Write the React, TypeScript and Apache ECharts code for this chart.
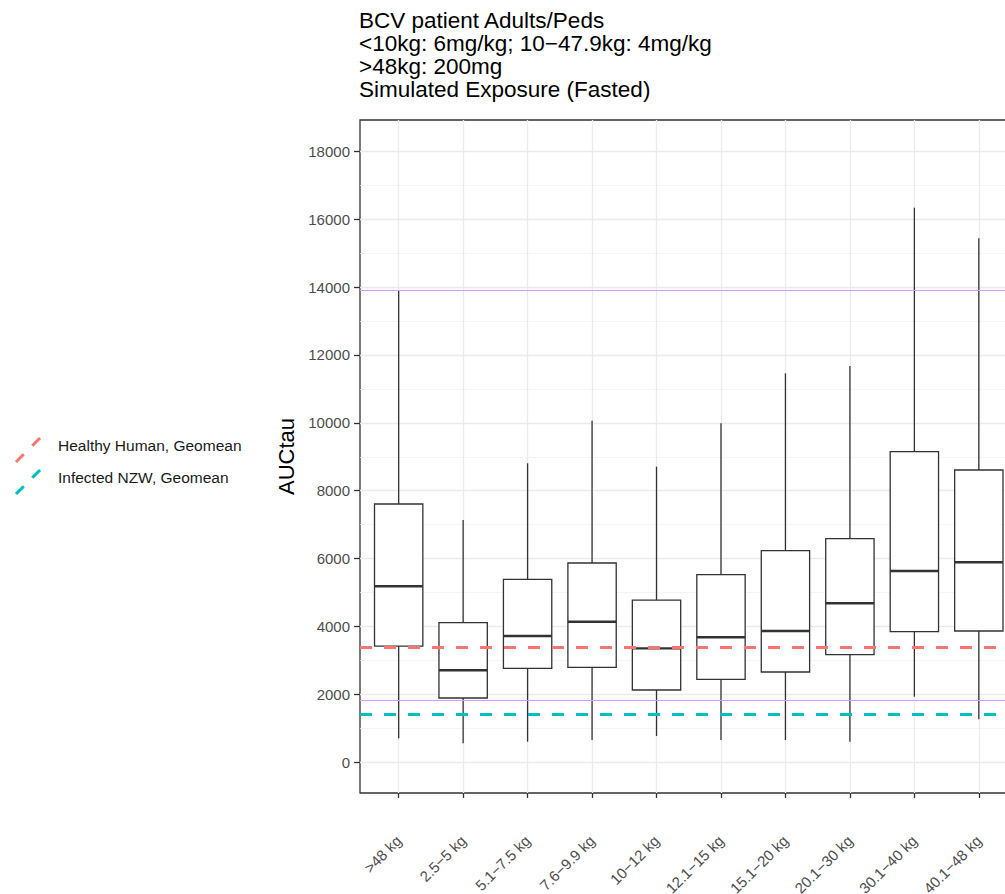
import React, { useEffect, useRef } from "react";
import * as echarts from "echarts";

// ---- data ----
const categories = [
  ">48 kg",
  "2.5−5 kg",
  "5.1−7.5 kg",
  "7.6−9.9 kg",
  "10−12 kg",
  "12.1−15 kg",
  "15.1−20 kg",
  "20.1−30 kg",
  "30.1−40 kg",
  "40.1−48 kg",
];
const whiskerLow = [707, 560, 607, 657, 775, 657, 657, 607, 1933, 1267];
const q1 = [3425, 1894, 2769, 2798, 2130, 2445, 2660, 3170, 3847, 3867];
const median = [5184, 2710, 3720, 4141, 3357, 3682, 3867, 4683, 5635, 5891];
const q3 = [7608, 4112, 5390, 5870, 4780, 5526, 6233, 6587, 9149, 8610];
const whiskerHigh = [13911, 7137, 8807, 10062, 8707, 9985, 11458, 11673, 16336, 15434];

const refNames = ["Healthy Human, Geomean", "Infected NZW, Geomean"];
const refValues = [3400, 1410];
const refColors = ["#F8766D", "#00BFC4"];
const purpleLines = [13900, 1835];

const yMajorTicks = [0, 2000, 4000, 6000, 8000, 10000, 12000, 14000, 16000, 18000];
const yMinorTicks = [1000, 3000, 5000, 7000, 9000, 11000, 13000, 15000, 17000];
const yMin = -904;
const yMax = 18919;

const titleLines = [
  "BCV patient Adults/Peds",
  "<10kg: 6mg/kg; 10−47.9kg: 4mg/kg",
  ">48kg: 200mg",
  "Simulated Exposure (Fasted)",
];
const yName = "AUCtau";

const FONT = "'Liberation Sans', Arial, Helvetica, sans-serif";
const BOX_COLOR = "#333333";

export default function App() {
  const ref = useRef<HTMLDivElement>(null);

  useEffect(() => {
    if (!ref.current) return;
    const chart = echarts.init(ref.current, null, { renderer: "svg" });
    const xPositions = categories.map((_, i) => i + 1);
    const boxData = categories.map((_, i) => [
      i + 1,
      whiskerLow[i],
      q1[i],
      median[i],
      q3[i],
      whiskerHigh[i],
    ]);

    const graphics: any[] = [];
    // title lines as separate texts
    titleLines.forEach((line, i) => {
      graphics.push({
        type: "text",
        silent: true,
        x: 359,
        y: 20 + i * 23,
        style: {
          text: line,
          fontSize: 22.5,
          fontFamily: FONT,
          fill: "#000000",
          verticalAlign: "middle",
          align: "left",
        },
      });
    });
    refNames.forEach((name, i) => {
      const cy = 445 + i * 32;
      graphics.push({
        type: "line",
        silent: true,
        shape: { x1: 16, y1: cy + 17, x2: 44, y2: cy - 11 },
        style: { stroke: refColors[i], lineWidth: 3, lineDash: [11, 12] },
      });
      graphics.push({
        type: "text",
        silent: true,
        x: 58,
        y: cy,
        style: {
          text: name,
          fontSize: 15.5,
          fontFamily: FONT,
          fill: "#1a1a1a",
          verticalAlign: "middle",
          align: "left",
        },
      });
    });

    const option: any = {
      animation: false,
      backgroundColor: "#ffffff",
      grid: {
        left: 360,
        top: 120,
        right: 0.5,
        bottom: 101,
        show: true,
        borderColor: "#333333",
        borderWidth: 1.3,
        backgroundColor: "#ffffff",
        containLabel: false,
        outerBoundsMode: "none",
      },
      xAxis: {
        type: "value",
        min: 0.4,
        max: 10.6,
        axisLine: { show: false, onZero: false },
        axisTick: {
          show: true,
          customValues: xPositions,
          length: 5,
          lineStyle: { color: "#333333", width: 1.3 },
        },
        axisLabel: {
          show: true,
          customValues: xPositions,
          rotate: 45,
          margin: 45,
          fontSize: 15,
          color: "#4d4d4d",
          fontFamily: FONT,
          formatter: (v: number) => categories[Math.round(v) - 1] ?? "",
        },
        splitLine: { show: true, lineStyle: { color: "#ebebeb", width: 1.3 } },
      },
      yAxis: [
        {
          type: "value",
          min: yMin,
          max: yMax,
          name: yName,
          nameLocation: "middle",
          nameRotate: 90,
          nameGap: 48,
          nameTextStyle: { fontSize: 22, color: "#000000", fontFamily: FONT },
          axisLine: { show: false, onZero: false },
          axisTick: {
            show: true,
            customValues: yMajorTicks,
            length: 6,
            lineStyle: { color: "#333333", width: 1.3 },
          },
          axisLabel: {
            show: true,
            customValues: yMajorTicks,
            margin: 10,
            fontSize: 15,
            color: "#4d4d4d",
            fontFamily: FONT,
            formatter: (v: number) => String(Math.round(v)),
          },
          splitLine: { show: true, lineStyle: { color: "#ebebeb", width: 1.3 } },
        },
        {
          type: "value",
          min: yMin,
          max: yMax,
          position: "right",
          axisLine: { show: false, onZero: false },
          axisTick: { show: false, customValues: yMinorTicks },
          axisLabel: { show: false, customValues: yMinorTicks },
          splitLine: { show: true, lineStyle: { color: "#f3f3f3", width: 0.8 } },
        },
      ],
      series: [
        {
          type: "custom",
          name: "box",
          z: 3,
          xAxisIndex: 0,
          yAxisIndex: 0,
          encode: { x: 0, y: [1, 2, 3, 4, 5] },
          data: boxData,
          renderItem: (params: any, api: any) => {
            const x = api.value(0);
            const pLo = api.coord([x, api.value(1)]);
            const pQ1 = api.coord([x, api.value(2)]);
            const pMed = api.coord([x, api.value(3)]);
            const pQ3 = api.coord([x, api.value(4)]);
            const pHi = api.coord([x, api.value(5)]);
            const w = api.size([0.75, 0])[0];
            const cx = pLo[0];
            const ls = { stroke: BOX_COLOR, lineWidth: 1.3, fill: "none" };
            return {
              type: "group",
              children: [
                { type: "line", shape: { x1: cx, y1: pHi[1], x2: cx, y2: pQ3[1] }, style: ls },
                { type: "line", shape: { x1: cx, y1: pQ1[1], x2: cx, y2: pLo[1] }, style: ls },
                {
                  type: "rect",
                  shape: { x: cx - w / 2, y: pQ3[1], width: w, height: pQ1[1] - pQ3[1] },
                  style: { fill: "#ffffff", stroke: BOX_COLOR, lineWidth: 1.3 },
                },
                {
                  type: "line",
                  shape: { x1: cx - w / 2, y1: pMed[1], x2: cx + w / 2, y2: pMed[1] },
                  style: { stroke: BOX_COLOR, lineWidth: 2.4 },
                },
              ],
            };
          },
        },
        {
          type: "line",
          name: "refs",
          z: 5,
          data: [],
          xAxisIndex: 0,
          yAxisIndex: 0,
          silent: true,
          markLine: {
            silent: true,
            symbol: ["none", "none"],
            label: { show: false },
            data: [
              ...purpleLines.map((v) => ({
                yAxis: v,
                lineStyle: { color: "#d59ef7", width: 1.2, type: "solid" },
              })),
              ...refValues.map((v, i) => ({
                yAxis: v,
                lineStyle: { color: refColors[i], width: 3, type: [12, 12] },
              })),
            ],
          },
        },
      ],
      graphic: graphics,
    };

    chart.setOption(option);
    return () => chart.dispose();
  }, []);

  return (
    <div
      style={{
        position: "absolute",
        left: 0,
        top: 0,
        width: 1005,
        height: 894,
        overflow: "hidden",
      }}
    >
      <div ref={ref} style={{ width: 1018, height: 894 }} />
    </div>
  );
}
